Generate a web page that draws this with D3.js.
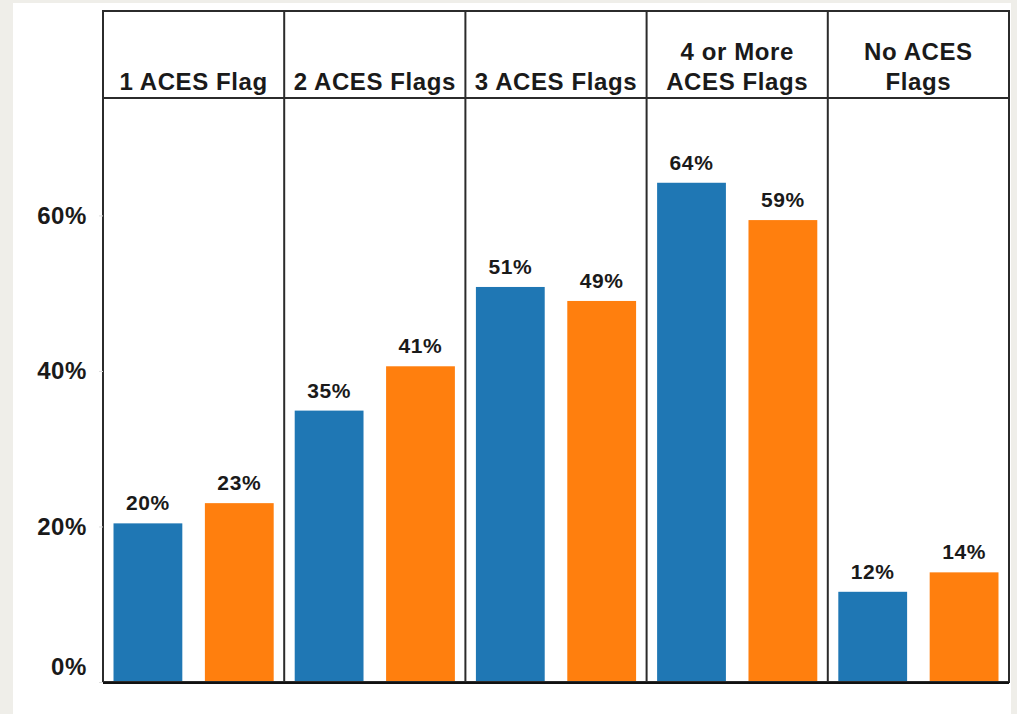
<!DOCTYPE html>
<html>
<head>
<meta charset="utf-8">
<script src="https://cdn.jsdelivr.net/npm/d3@7"></script>
<style>
  html, body { margin: 0; padding: 0; background: #ffffff; }
  svg { display: block; }
  text { font-family: "Liberation Sans", Arial, sans-serif; font-weight: bold; fill: #1a1a1a; }
</style>
</head>
<body>
<svg id="chart" width="1017" height="714"></svg>
<script>
// ---- data ----
const categories = ["1 ACES Flag", "2 ACES Flags", "3 ACES Flags", "4 or More ACES Flags", "No ACES Flags"];
const categoryLines = [["1 ACES Flag"], ["2 ACES Flags"], ["3 ACES Flags"], ["4 or More", "ACES Flags"], ["No ACES", "Flags"]];
const seriesNames = ["A", "B"];
const seriesA = [20.4, 34.9, 50.8, 64.2, 11.6];
const seriesB = [23.0, 40.6, 49.0, 59.4, 14.1];
const seriesColors = ["#1f77b4", "#ff7f0e"];
const yTicks = [0, 20, 40, 60];

(function () {
// ---- layout ----
const svg = d3.select("#chart");
const W = 1017, H = 714;
const mLeft = 103, mRight = 1009, mTop = 11, stripBottom = 98, mBottom = 682;

// page frame background
svg.append("rect").attr("x", 0).attr("y", 0).attr("width", W).attr("height", H).attr("fill", "#efeee9");
svg.append("rect").attr("x", 13).attr("y", 3).attr("width", 998).attr("height", H - 3).attr("fill", "#ffffff");

const x = d3.scaleBand().domain(categories).range([mLeft, mRight]).paddingInner(0).paddingOuter(0);
const xi = d3.scaleBand().domain(seriesNames).range([0, x.bandwidth()]).paddingInner(0.247).paddingOuter(0.115);
const y = d3.scaleLinear().domain([0, 75.1]).range([mBottom, stripBottom]);

const data = categories.map((c, i) => ({ cat: c, values: [
  { s: "A", v: seriesA[i], color: seriesColors[0] },
  { s: "B", v: seriesB[i], color: seriesColors[1] }
]}));

// bars
const groups = svg.append("g").selectAll("g").data(data).join("g")
  .attr("transform", d => `translate(${x(d.cat)},0)`);
groups.selectAll("rect").data(d => d.values).join("rect")
  .attr("x", d => xi(d.s))
  .attr("y", d => y(d.v))
  .attr("width", xi.bandwidth())
  .attr("height", d => y(0) - y(d.v))
  .attr("fill", d => d.color);
groups.selectAll("text.val").data(d => d.values).join("text")
  .attr("class", "val")
  .attr("x", d => xi(d.s) + xi.bandwidth() / 2)
  .attr("y", d => y(d.v) - 13)
  .attr("text-anchor", "middle")
  .attr("font-size", 21)
  .attr("letter-spacing", 0.6)
  .text(d => Math.round(d.v) + "%");

// strip headers
const strips = svg.append("g").selectAll("g").data(categories).join("g")
  .attr("transform", d => `translate(${x(d) + x.bandwidth() / 2},0)`);
strips.each(function(d, i) {
  const lines = categoryLines[i];
  const g = d3.select(this);
  lines.forEach((ln, j) => {
    g.append("text")
      .attr("x", 0)
      .attr("y", 90 - (lines.length - 1 - j) * 30)
      .attr("text-anchor", "middle")
      .attr("font-size", 24)
      .attr("letter-spacing", 0.6)
      .text(ln);
  });
});

// frame lines
const frame = svg.append("g").attr("fill", "none").attr("stroke", "#2b2b2b");
frame.append("rect").attr("x", mLeft).attr("y", mTop).attr("width", mRight - mLeft).attr("height", mBottom - mTop).attr("stroke-width", 2);
frame.append("line").attr("x1", mLeft).attr("x2", mRight).attr("y1", stripBottom).attr("y2", stripBottom).attr("stroke-width", 2);
frame.selectAll("line.div").data(categories.slice(1)).join("line")
  .attr("class", "div")
  .attr("x1", d => x(d)).attr("x2", d => x(d))
  .attr("y1", mTop).attr("y2", mBottom)
  .attr("stroke-width", 2);
// baseline
svg.append("line").attr("x1", mLeft).attr("x2", mRight).attr("y1", mBottom + 1).attr("y2", mBottom + 1)
  .attr("stroke", "#111").attr("stroke-width", 2);

// y axis
const yAxis = svg.append("g").attr("transform", `translate(${mLeft},0)`)
  .call(d3.axisLeft(y).tickValues(yTicks).tickFormat(d => d + "%").tickSize(4).tickPadding(12));
yAxis.select(".domain").remove();
yAxis.selectAll(".tick line").attr("stroke", "#dddddd");
yAxis.selectAll(".tick text")
  .attr("font-size", 24)
  .attr("letter-spacing", 0.6)
  .attr("font-family", "'Liberation Sans', Arial, sans-serif")
  .attr("font-weight", "bold")
  .attr("fill", "#1a1a1a");
yAxis.selectAll(".tick").filter(d => d === 0).select("text").attr("dy", "-0.3em");
})();
</script>
</body>
</html>
